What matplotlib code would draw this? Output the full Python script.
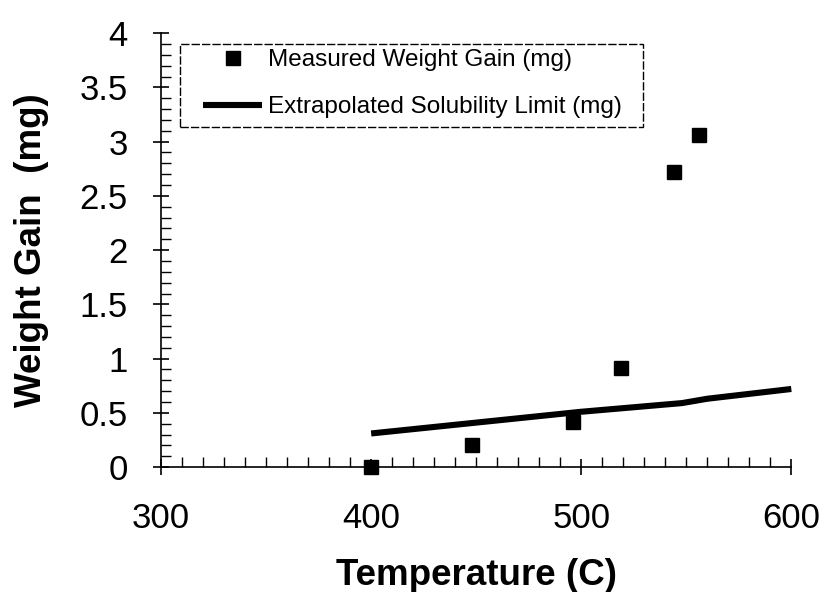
import matplotlib
matplotlib.use("Agg")
import matplotlib.pyplot as plt
from matplotlib.ticker import MultipleLocator
from matplotlib.patches import Rectangle

plt.rcParams['font.family'] = ['Liberation Sans', 'DejaVu Sans']

# Data
temp_measured = [400, 448, 496, 519, 544, 556]
gain_measured = [0.0, 0.2, 0.42, 0.91, 2.72, 3.06]

temp_limit = [400, 450, 500, 548, 560, 600]
gain_limit = [0.31, 0.41, 0.51, 0.59, 0.63, 0.72]

xticks = [300, 400, 500, 600]
yticks = [0, 0.5, 1, 1.5, 2, 2.5, 3, 3.5, 4]
ytick_labels = ['0', '0.5', '1', '1.5', '2', '2.5', '3', '3.5', '4']

W, H = 826, 592
fig = plt.figure(figsize=(W / 100, H / 100), dpi=100)
ax = fig.add_axes([0.195, 0.211, 0.763, 0.733])

ax.plot(temp_measured, gain_measured, linestyle='none', marker='s', markersize=9.6,
        color='black', label='Measured Weight Gain (mg)', clip_on=False, zorder=5)
ax.plot(temp_limit, gain_limit, color='black', linewidth=4.4, solid_capstyle='butt',
        label='Extrapolated Solubility Limit (mg)', clip_on=False, zorder=4)

ax.set_xlim(300, 600)
ax.set_ylim(0, 4)
ax.set_xticks(xticks)
ax.set_yticks(yticks)
ax.set_yticklabels(ytick_labels)
ax.xaxis.set_minor_locator(MultipleLocator(10))
ax.yaxis.set_minor_locator(MultipleLocator(0.1))

for s in ['top', 'right']:
    ax.spines[s].set_visible(False)
for s in ['left', 'bottom']:
    ax.spines[s].set_linewidth(1.2)

ax.tick_params(axis='both', which='major', direction='inout', length=12, width=1.2,
               labelsize=25)
ax.tick_params(axis='both', which='minor', direction='in', length=7, width=1.0)
ax.tick_params(axis='x', which='major', pad=19)
ax.tick_params(axis='y', which='major', pad=18)

ax.set_xlabel('Temperature (C)', fontsize=26.5, fontweight='bold', labelpad=17)
ax.set_ylabel('Weight Gain  (mg)', fontsize=26.5, fontweight='bold', labelpad=22)

# legend box (dashed, as in the reference)
box = Rectangle((180 / W, 1 - 127 / H), (643 - 180) / W, (127 - 44) / H,
                transform=fig.transFigure, fill=False,
                edgecolor='black', linewidth=1.0,
                linestyle=(0, (6, 1.5)), zorder=6, clip_on=False)
ax.add_patch(box)

leg = ax.legend(loc='upper left', bbox_to_anchor=(203 / W, 1 - 49 / H),
                bbox_transform=fig.transFigure, fontsize=17.5, frameon=False,
                handlelength=2.43, handletextpad=0.25, borderpad=0, borderaxespad=0,
                labelspacing=1.04)
leg.set_zorder(7)

fig.savefig('out.png', dpi=100)
